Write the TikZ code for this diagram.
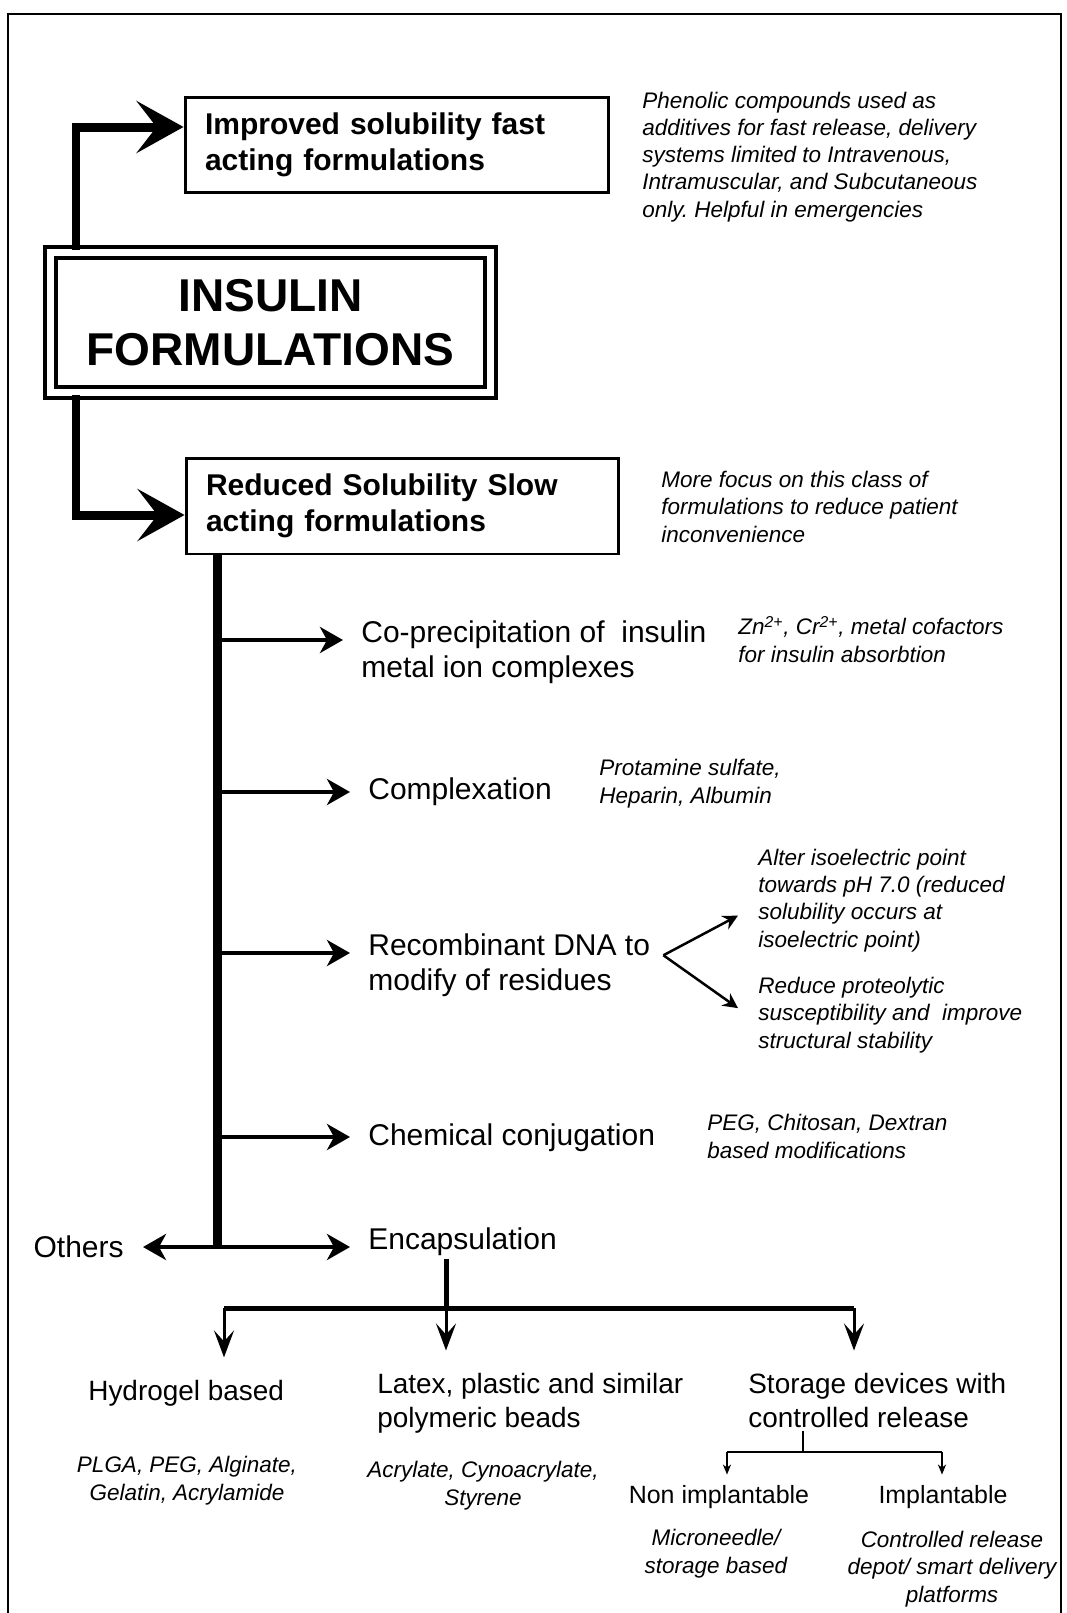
\documentclass[tikz,border=0pt]{standalone}
\usepackage{fontspec}
\setmainfont{Liberation Sans}
\usetikzlibrary{arrows.meta}
\usetikzlibrary{calc}
\frenchspacing

\tikzset{
  headbox/.style={draw, line width=0.06cm, inner xsep=0.4cm, align=left, minimum height=1.92cm, font=\bfseries\fontsize{17.07}{20.5}\selectfont},
  titlebox/.style={draw, double, line width=0.08cm, double distance=0.14cm, align=center, minimum width=8.82cm, minimum height=2.82cm, font=\bfseries\fontsize{26.2}{30.7}\selectfont},
  lbl/.style={anchor=base west, inner xsep=0.36cm, inner ysep=0.06cm, align=left, font=\fontsize{17.07}{19.9}\selectfont},
  sublbl/.style={anchor=base west, inner sep=0.06cm, align=left, font=\fontsize{15.9}{19.3}\selectfont},
  leaf/.style={anchor=base, inner sep=0.06cm, font=\fontsize{14.2}{17}\selectfont},
  note/.style={anchor=base west, inner sep=0pt, align=left, font=\itshape\fontsize{12.8}{15.4}\selectfont},
  cnote/.style={note, anchor=base, align=center},
  bigarr/.style={line width=0.18cm, -{Stealth[length=0.94cm, width=1.04cm, inset=0.4cm]}},
  trunk/.style={line width=0.18cm},
  branch/.style={line width=0.08cm, -{Stealth[length=0.46cm, width=0.52cm, inset=0.14cm]}},
  fork/.style={line width=0.05cm, -{Stealth[length=0.3cm, width=0.3cm, inset=0.1cm]}},
  bar/.style={line width=0.1cm},
  downarr/.style={line width=0.06cm, shorten >=0.38cm, -{Stealth[length=0.54cm, width=0.4cm, inset=0.22cm]}},
  thinline/.style={line width=0.04cm},
  smallarr/.style={line width=0.04cm, shorten >=0.14cm, -{Stealth[length=0.2cm, width=0.16cm, inset=0.06cm]}},
}

\begin{document}
\begin{tikzpicture}[x=0.02cm, y=-0.02cm]
  \useasboundingbox (0,0) rectangle (1067,1613);
  \draw[thinline] (8,1630) |- (1061,14) -- (1061,1630);

  \node[titlebox] (insulin) at (270.5,322.5) {INSULIN\\FORMULATIONS};
  \node[headbox, text width=7.68cm] (fast) at (397,145) {Improved solubility fast\\acting formulations};
  \node[headbox, text width=7.86cm] (slow) at (402.5,506) {Reduced Solubility Slow\\acting formulations};

  \node[note] (phen) at (642,217) {Phenolic compounds used as\\additives for fast release, delivery\\systems limited to Intravenous,\\Intramuscular, and Subcutaneous\\only. Helpful in emergencies};
  \node[note] (focus) at (661,542) {More focus on this class of\\formulations to reduce patient\\inconvenience};

  \coordinate (t1) at (76,127);
  \coordinate (t2) at (76,515);
  \draw[bigarr] (insulin.north -| t1) |- (fast.west |- t1);
  \draw[bigarr] (insulin.south -| t2) |- (slow.west |- t2);

  \coordinate (tr) at (217,1247);
  \draw[trunk] (slow.south -| tr) -- (tr);

  \node[lbl] (copre) at (343,677) {Co-precipitation of\ \ insulin\\metal ion complexes};
  \node[note] (zn) at (738,662) {Zn\textsuperscript{2+}, Cr\textsuperscript{2+}, metal cofactors\\for insulin absorbtion};
  \node[lbl] (complex) at (350,799) {Complexation};
  \node[note] (prot) at (599,803) {Protamine sulfate,\\Heparin, Albumin};
  \node[lbl] (recomb) at (350,990) {Recombinant DNA to\\modify of residues};
  \node[note] (alter) at (758,947) {Alter isoelectric point\\towards pH 7.0 (reduced\\solubility occurs at\\isoelectric point)};
  \node[note] (reduce) at (758,1048) {Reduce proteolytic\\susceptibility and\ \ improve\\structural stability};
  \node[lbl] (chem) at (350,1145) {Chemical conjugation};
  \node[note] (peg) at (707,1158) {PEG, Chitosan, Dextran\\based modifications};
  \node[lbl] (encap) at (350,1249) {Encapsulation};
  \node[lbl, anchor=base east, inner xsep=0.38cm] (others) at (143,1257) {Others};

  \coordinate (b1) at (217,640);
  \coordinate (b2) at (217,792);
  \coordinate (b3) at (217,953);
  \coordinate (b4) at (217,1137);
  \draw[branch] (b1) -- (b1 -| copre.west);
  \draw[branch] (b2) -- (b2 -| complex.west);
  \draw[branch] (b3) -- (b3 -| recomb.west);
  \draw[branch] (b4) -- (b4 -| chem.west);
  \draw[branch] (tr) -- (tr -| encap.west);
  \draw[branch] (tr) -- (tr -| others.east);

  \draw[fork] ([xshift=-0.1cm, yshift=0.19cm]recomb.east) -- ([xshift=-0.4cm, yshift=-0.3cm]alter.west);
  \draw[fork] ([xshift=-0.1cm, yshift=0.19cm]recomb.east) -- ([xshift=-0.4cm, yshift=0.14cm]reduce.west);

  \coordinate (eb) at (446,1308);
  \coordinate (hl) at (224,1308);
  \coordinate (hr) at (854,1308);
  \node[sublbl] (hydro) at (85,1400) {Hydrogel based};
  \node[sublbl] (latex) at (374,1427) {Latex, plastic and similar\\polymeric beads};
  \node[sublbl] (store) at (745,1427) {Storage devices with\\controlled release};
  \draw[bar] (encap.south -| eb) -- (eb);
  \draw[bar] (hl) -- (hr);
  \draw[downarr] (hl) -- (hl |- hydro.north);
  \draw[downarr] (eb) -- (eb |- latex.north);
  \draw[downarr] (hr) -- (hr |- store.north);

  \node[cnote] (plga) at (187,1500) {PLGA, PEG, Alginate,\\Gelatin, Acrylamide};
  \node[cnote] (acryl) at (483,1505) {Acrylate, Cynoacrylate,\\Styrene};

  \coordinate (sb) at (803,1452);
  \coordinate (sl) at (727,1452);
  \coordinate (sr) at (942,1452);
  \node[leaf] (nonimp) at (719,1503) {Non implantable};
  \node[leaf] (implant) at (943,1503) {Implantable};
  \draw[thinline] (store.south -| sb) -- (sb);
  \draw[thinline] (sl) -- (sr);
  \draw[smallarr] (sl) -- (sl |- nonimp.north);
  \draw[smallarr] (sr) -- (sr |- implant.north);

  \node[cnote] (micro) at (716,1573) {Microneedle/\\storage based};
  \node[cnote] (depot) at (952,1602) {Controlled release\\depot/ smart delivery\\platforms};
\end{tikzpicture}
\end{document}
